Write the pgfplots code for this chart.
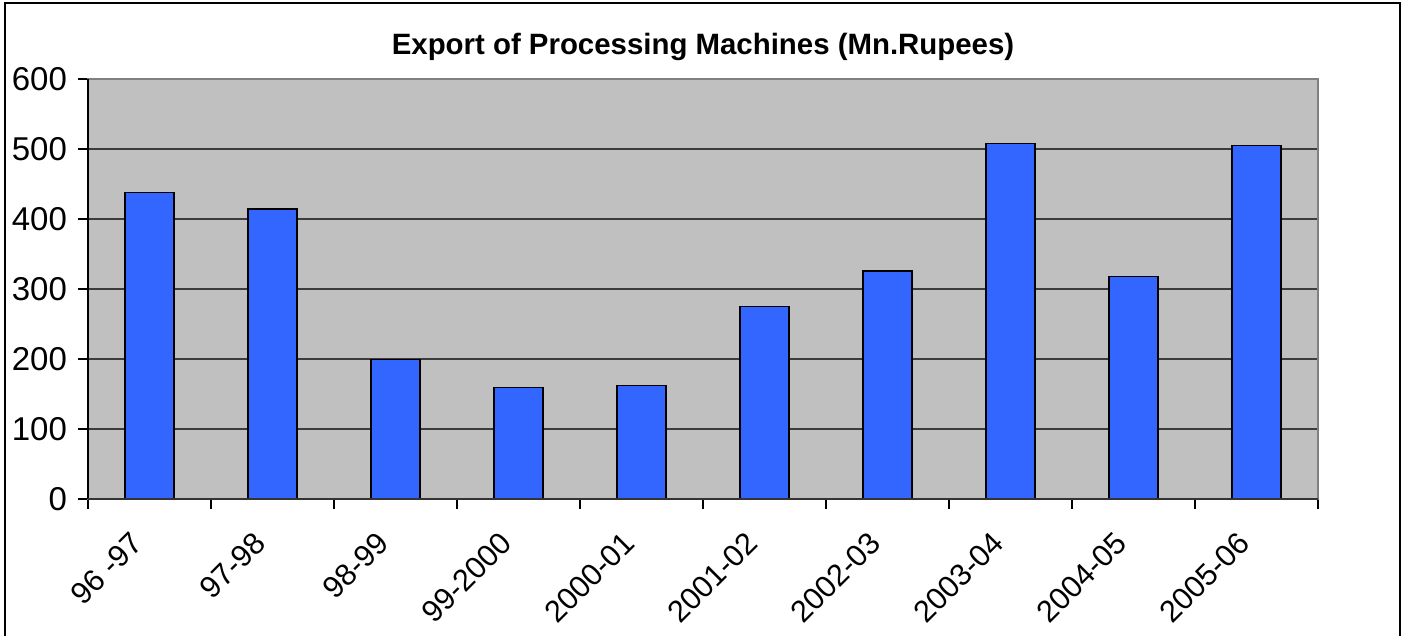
\documentclass[border=0pt]{standalone}
\usepackage{fontspec}
\setmainfont{Liberation Sans}
\usepackage{pgfplots}
\pgfplotsset{compat=1.18}
\usetikzlibrary{calc}
\definecolor{barblue}{RGB}{51,102,255}
\definecolor{plotbg}{RGB}{192,192,192}
\definecolor{gridc}{RGB}{60,60,60}
\begin{document}
\begin{tikzpicture}
\begin{axis}[
  name=ax,
  scale only axis,
  width=615pt, height=210pt,
  xmin=-0.5, xmax=9.5, ymin=0, ymax=600,
  ybar, bar width=24.5pt,
  axis background/.style={fill=plotbg},
  axis line style={draw=gray, line width=0.75pt},
  font=\fontsize{16.5}{20}\selectfont,
  /pgf/number format/assume math mode=true,
  ytick={0,100,...,600},
  ymajorgrids, major grid style={gridc, line width=0.6pt},
  xtick={0,...,9},
  xticklabels={96 -97,97-98,98-99,99-2000,2000-01,2001-02,2002-03,2003-04,2004-05,2005-06},
  minor xtick={-0.5,0.5,...,9.5},
  tick pos=left, tick align=outside,
  major tick length=5pt, minor tick length=5pt,
  every major x tick/.append style={draw=none},
  every tick/.style={black, line width=0.6pt},
  yticklabel style={xshift=-2pt},
  xticklabel style={xshift=-10pt, yshift=-9pt, rotate=45, anchor=north east, inner sep=1pt, font=\fontsize{15.3}{18}\selectfont},
  title={\bfseries Export of Processing Machines (Mn.Rupees)},
  title style={at={(0.5,1)}, anchor=base, yshift=6.5pt, font=\fontsize{14.7}{17}\selectfont},
]
\addplot[fill=barblue, draw=black, line width=0.8pt] coordinates {
  (0,438) (1,414) (2,199) (3,159) (4,162)
  (5,275) (6,326) (7,508) (8,318) (9,505)
};
\end{axis}
\draw[black, line width=0.8pt] (ax.south west) -- (ax.north west);
\draw[black!80, line width=0.8pt] (ax.south west) -- (ax.south east);
\draw[black, line width=0.75pt]
  ($(ax.south west)+(-41.5pt,-80pt)$) rectangle ($(ax.north east)+(41pt,38pt)$);
\pgfresetboundingbox
\path ($(ax.south west)+(-44pt,-68.5pt)$) rectangle ($(ax.north east)+(44.5pt,39.5pt)$);
\end{tikzpicture}
\end{document}
